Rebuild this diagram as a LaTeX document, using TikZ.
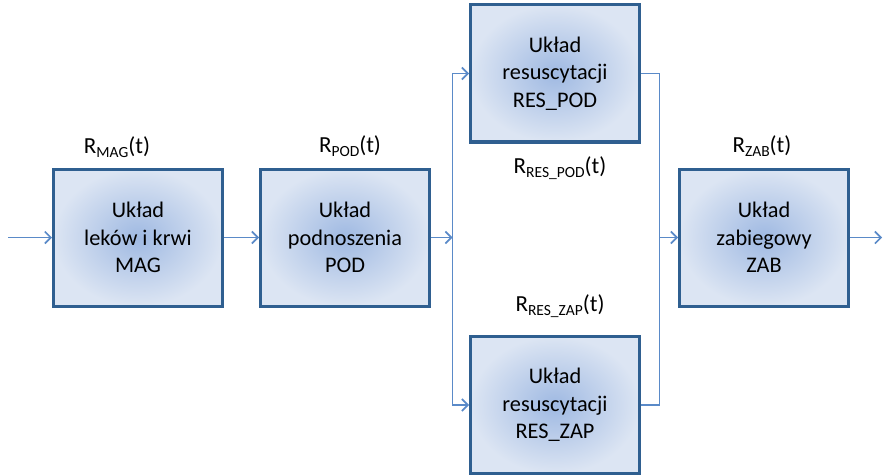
\documentclass[tikz,border=0pt]{standalone}
\usepackage{fontspec}
\setmainfont{Carlito}
\usetikzlibrary{arrows.meta}
\definecolor{boxborder}{HTML}{2F5F90}
\definecolor{boxin}{HTML}{9FB9E2}
\definecolor{boxout}{HTML}{DCE5F3}
\definecolor{conn}{HTML}{5A8AC8}
\newcommand\Rlab[1]{R\raisebox{-0.4ex}{\fontsize{15.5}{15.5}\selectfont #1}(t)}
\begin{document}
\begin{tikzpicture}[x=1pt,y=-1pt,
  blk/.style={draw=boxborder, line width=3pt, inner color=boxin, outer color=boxout,
    minimum width=169pt, minimum height=137pt, align=center, inner sep=0pt,
    font=\fontsize{22.3}{27.5}\selectfont},
  lbl/.style={font=\fontsize{23}{26}\selectfont, inner sep=0pt},
  conn/.style={draw=conn, line width=1.6pt},
  arr/.style={conn, -{Straight Barb[length=6pt,width=12pt,line width=1.6pt]}}]
\useasboundingbox (0,0) rectangle (883,476);
\node[blk] (MAG) at (138,237.5) {Układ\\leków i krwi\\MAG};
\node[blk] (POD) at (345,237.5) {Układ\\podnoszenia\\POD};
\node[blk] (RP) at (555,73.5) {Układ\\resuscytacji\\RES\_POD};
\node[blk] (RZ) at (555,405) {Układ\\resuscytacji\\RES\_ZAP};
\node[blk] (ZAB) at (764,237.5) {Układ\\zabiegowy\\ZAB};
\node[lbl] (lMAG) at (117,147) {\Rlab{MAG}};
\node[lbl] (lPOD) at (350,146) {\Rlab{POD}};
\node[lbl] (lRP) at (560,168) {\Rlab{RES\_POD}};
\node[lbl] (lRZ) at (560,306) {\Rlab{RES\_ZAP}};
\node[lbl] (lZAB) at (762,146) {\Rlab{ZAB}};
\coordinate (in) at (8,237.5);
\coordinate (out) at (882,237.5);
\coordinate (br) at (452.5,237.5);
\coordinate (jn) at (659.5,237.5);
\draw[arr] (in) -- (MAG.west);
\draw[arr] (MAG.east) -- (POD.west);
\draw[arr] (POD.east) -- (br);
\draw[arr] (br) |- (RP.west);
\draw[arr] (br) |- (RZ.west);
\draw[conn] (RP.east) -| (jn);
\draw[conn] (RZ.east) -| (jn);
\draw[arr] (jn) -- (ZAB.west);
\draw[arr] (ZAB.east) -- (out);
\end{tikzpicture}
\end{document}
